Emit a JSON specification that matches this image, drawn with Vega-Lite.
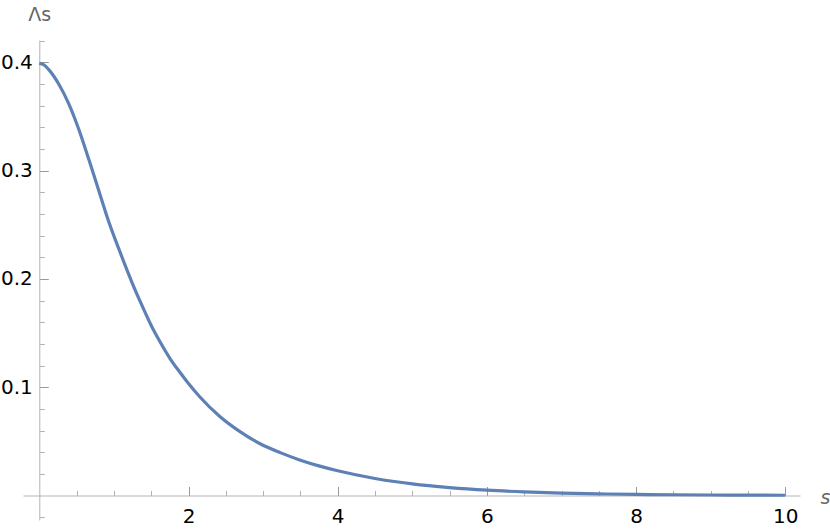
{
  "$schema": "https://vega.github.io/schema/vega-lite/v6.json",
  "autosize": {"type": "none"},
  "padding": {"left": 23, "top": 40, "right": 30, "bottom": 11},
  "width": 777,
  "height": 480,
  "background": "white",
  "config": {"view": {"stroke": null}, "font": "DejaVu Sans"},
  "data": {"values": [
    {"s": 0, "v": 0.399},
    {"s": 0.065, "v": 0.3975},
    {"s": 0.13, "v": 0.393},
    {"s": 0.26, "v": 0.380},
    {"s": 0.4, "v": 0.361},
    {"s": 0.53, "v": 0.338},
    {"s": 0.67, "v": 0.309},
    {"s": 0.8, "v": 0.281},
    {"s": 0.93, "v": 0.253},
    {"s": 1.07, "v": 0.227},
    {"s": 1.25, "v": 0.1955},
    {"s": 1.35, "v": 0.1795},
    {"s": 1.5, "v": 0.157},
    {"s": 1.62, "v": 0.1417},
    {"s": 1.75, "v": 0.1267},
    {"s": 1.89, "v": 0.1133},
    {"s": 2.0, "v": 0.1034},
    {"s": 2.15, "v": 0.0912},
    {"s": 2.42, "v": 0.073},
    {"s": 2.69, "v": 0.059},
    {"s": 2.96, "v": 0.0478},
    {"s": 3.23, "v": 0.0396},
    {"s": 3.5, "v": 0.0326},
    {"s": 3.76, "v": 0.0271},
    {"s": 4, "v": 0.0228},
    {"s": 4.5, "v": 0.0157},
    {"s": 5, "v": 0.0107},
    {"s": 5.5, "v": 0.0073},
    {"s": 6, "v": 0.0049},
    {"s": 6.5, "v": 0.0033},
    {"s": 7, "v": 0.0022},
    {"s": 7.5, "v": 0.0015},
    {"s": 8, "v": 0.001},
    {"s": 8.5, "v": 0.0007},
    {"s": 9, "v": 0.00047},
    {"s": 9.5, "v": 0.00032},
    {"s": 10, "v": 0.00022}
  ]},
  "mark": {"type": "line", "color": "#5E81B5", "strokeWidth": 3.2, "interpolate": "monotone"},
  "encoding": {
    "x": {
      "field": "s", "type": "quantitative",
      "scale": {"domain": [-0.2185, 10.197], "nice": false, "zero": false},
      "axis": {
        "offset": -24.5,
        "values": [0.5, 1, 1.5, 2, 2.5, 3, 3.5, 4, 4.5, 5, 5.5, 6, 6.5, 7, 7.5, 8, 8.5, 9, 9.5, 10],
        "labelExpr": "(datum.value % 2 === 0) ? format(datum.value, 'd') : ''",
        "tickSize": {"condition": {"test": "datum.value % 2 === 0", "value": -9}, "value": -5},
        "tickColor": {"condition": {"test": "datum.value % 2 === 0", "value": "#999999"}, "value": "#b0b0b0"},
        "tickWidth": 1,
        "domainColor": "#b3b3b3",
        "domainWidth": 1,
        "grid": false,
        "labelFont": "DejaVu Sans",
        "labelFontSize": 20,
        "labelColor": "#000000",
        "labelPadding": 20,
        "labelFlush": false,
        "labelOverlap": false,
        "title": "s",
        "titleFont": "DejaVu Sans",
        "titleFontStyle": "italic",
        "titleFontWeight": "normal",
        "titleFontSize": 19,
        "titleColor": "#666666",
        "titleAnchor": null,
        "titleAlign": "center",
        "titleBaseline": "alphabetic",
        "titleX": 802,
        "titleY": 7.5
      }
    },
    "y": {
      "field": "v", "type": "quantitative",
      "scale": {"domain": [-0.02262, 0.42059], "nice": false, "zero": false},
      "axis": {
        "offset": -16.3,
        "values": [-0.02, 0.02, 0.04, 0.06, 0.08, 0.1, 0.12, 0.14, 0.16, 0.18, 0.2, 0.22, 0.24, 0.26, 0.28, 0.3, 0.32, 0.34, 0.36, 0.38, 0.4, 0.42],
        "labelExpr": "(datum.value > 0 && abs(datum.value*10 - round(datum.value*10)) < 0.001) ? format(datum.value, '.1f') : ''",
        "tickSize": {"condition": {"test": "abs(datum.value*10 - round(datum.value*10)) < 0.001", "value": -9}, "value": -5},
        "tickColor": {"condition": {"test": "abs(datum.value*10 - round(datum.value*10)) < 0.001", "value": "#999999"}, "value": "#b0b0b0"},
        "tickWidth": 1,
        "domainColor": "#b3b3b3",
        "domainWidth": 1,
        "grid": false,
        "labelFont": "DejaVu Sans",
        "labelFontSize": 20,
        "labelColor": "#000000",
        "labelPadding": 16,
        "labelFlush": false,
        "labelOverlap": false,
        "title": "Λs",
        "titleFont": "DejaVu Sans",
        "titleFontWeight": "normal",
        "titleFontSize": 19,
        "titleColor": "#666666",
        "titleAngle": 0,
        "titleAnchor": null,
        "titleAlign": "center",
        "titleBaseline": "alphabetic",
        "titleX": 0,
        "titleY": -19.5
      }
    }
  }
}
